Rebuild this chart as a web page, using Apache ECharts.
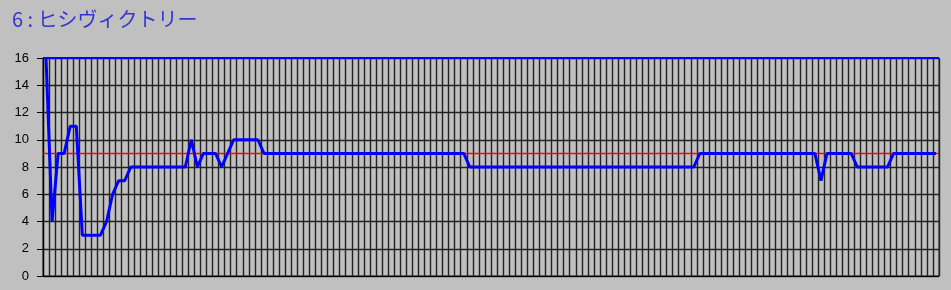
<!DOCTYPE html>
<html>
<head>
<meta charset="utf-8">
<script src="https://cdn.jsdelivr.net/npm/echarts@6/dist/echarts.min.js"></script>
<style>
html,body{margin:0;padding:0;background:#c0c0c0;}
#chart{width:951px;height:290px;}
</style>
</head>
<body>
<div id="chart"></div>
<script>
const titleText = '6 : ヒシヴィクトリー';
const yTicks = [0, 2, 4, 6, 8, 10, 12, 14, 16];
const positions = [
  16, 4, 9, 9, 11, 11, 3, 3, 3, 3, 4, 6, 7, 7,
  8, 8, 8, 8, 8, 8, 8, 8, 8, 8,
  10, 8, 9, 9, 9, 8, 9,
  10, 10, 10, 10, 10,
  9, 9, 9, 9, 9, 9, 9, 9, 9, 9, 9, 9, 9, 9, 9, 9, 9,
  9, 9, 9, 9, 9, 9, 9, 9, 9, 9, 9, 9, 9, 9, 9, 9, 9,
  8, 8, 8, 8, 8, 8, 8, 8, 8, 8, 8, 8, 8, 8, 8, 8, 8, 8, 8,
  8, 8, 8, 8, 8, 8, 8, 8, 8, 8, 8, 8, 8, 8, 8, 8, 8, 8, 8,
  9, 9, 9, 9, 9, 9, 9, 9, 9, 9, 9, 9, 9, 9, 9, 9, 9, 9, 9, 9,
  7,
  9, 9, 9, 9, 9,
  8, 8, 8, 8, 8, 8,
  9, 9, 9, 9, 9, 9, 9, 9
];
const categories = positions.map((_, i) => String(i + 1));
const fieldSize = 16;
const referenceLevel = 9;

const chart = echarts.init(document.getElementById('chart'), null, {renderer: 'canvas'});
chart.setOption({
  animation: false,
  backgroundColor: '#c0c0c0',
  title: {
    text: titleText,
    left: 7,
    top: 4,
    textStyle: {color: '#3535d0', fontSize: 20, fontWeight: 'normal', fontFamily: 'Noto Sans CJK JP'}
  },
  grid: {left: 43, right: 12, top: 58, bottom: 14, show: true, borderColor: '#222', borderWidth: 1},
  xAxis: {
    type: 'category', data: categories, boundaryGap: true,
    axisLine: {lineStyle: {color: '#000', width: 1}},
    axisTick: {show: false},
    axisLabel: {show: false, interval: 0},
    splitLine: {show: true, interval: 0, lineStyle: {color: '#222', width: 1.4}}
  },
  yAxis: {
    type: 'value', min: yTicks[0], max: yTicks[yTicks.length - 1], interval: 2,
    axisLine: {show: true, lineStyle: {color: '#000', width: 1.2}},
    axisTick: {show: true, inside: false, length: 6, lineStyle: {color: '#000'}},
    axisLabel: {margin: 14, color: '#000', fontSize: 13, fontFamily: 'Liberation Sans'},
    splitLine: {show: true, lineStyle: {color: '#222', width: 1.4}}
  },
  series: [
    {
      type: 'line', data: positions, z: 5, symbol: 'none', showSymbol: false,
      lineStyle: {color: '#0000ff', width: 3},
      markLine: {
        silent: true, symbol: ['none', 'none'], label: {show: false}, animation: false,
        z: 3,
        data: [
          {yAxis: referenceLevel, lineStyle: {color: '#ff0000', width: 1.3, type: 'solid', opacity: 1}},
          {yAxis: fieldSize, lineStyle: {color: '#0000ff', width: 2, type: 'solid', opacity: 1}}
        ]
      }
    }
  ]
});
</script>
</body>
</html>
